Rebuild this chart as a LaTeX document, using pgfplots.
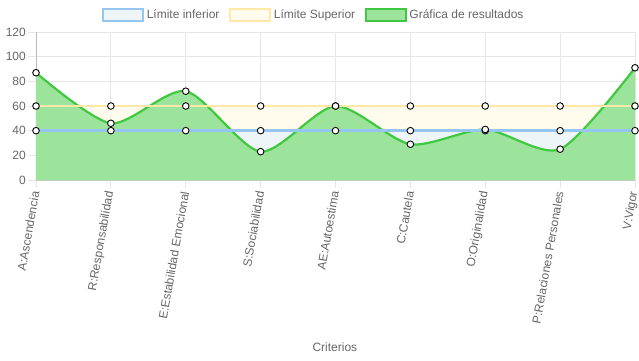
\documentclass[border=0pt]{standalone}
\usepackage{pgfplots}
\pgfplotsset{compat=1.18}
\usepackage{fontspec}
\setmainfont{Liberation Sans}
\definecolor{txt}{HTML}{666666}
\definecolor{gridc}{HTML}{E6E6E6}
\definecolor{axc}{HTML}{BBBBBB}
\definecolor{bline}{RGB}{150,198,240}
\definecolor{bfill}{RGB}{238,245,248}
\definecolor{yline}{RGB}{255,232,168}
\definecolor{yfill}{RGB}{255,252,238}
\definecolor{gline}{RGB}{64,200,64}
\definecolor{gfill}{RGB}{156,227,156}
\begin{document}
\begin{tikzpicture}[x=1pt,y=1pt]
\useasboundingbox (-36pt,-180pt) rectangle (603pt,180pt);
\begin{axis}[
  at={(0pt,0pt)}, anchor=south west,
  scale only axis, width=599pt, height=148pt,
  xmin=0, xmax=8, ymin=0, ymax=120,
  xtick={0,...,8},
  xticklabels={A:Ascendencia,R:Responsabilidad,E:Estabilidad Emocional,S:Sociabilidad,AE:Autoestima,C:Cautela,O:Originalidad,P:Relaciones Personales,V:Vigor},
  ytick={0,20,...,120},
  font=\fontsize{12}{14}\selectfont,
  tick label style={text=txt, font=\fontsize{12}{14}\selectfont},
  /pgf/number format/assume math mode=true,
  x tick label style={rotate=80, anchor=east, inner sep=3.5pt},
  y tick label style={anchor=east, inner sep=2pt},
  grid=major, grid style={color=gridc, line width=0.8pt},
  major tick length=8pt, tick align=outside,
  tick style={color=gridc, line width=0.8pt},
  axis lines*=left, axis line style={color=axc, line width=0.8pt, -},
  xlabel={Criterios},
  xlabel style={at={(axis description cs:0.499,0)}, anchor=center, yshift=-167pt, text=txt},
  legend columns=3,
  reverse legend,
  legend style={at={(axis description cs:0.464,1.115)}, anchor=center, draw=none, fill=none,
    font=\fontsize{12}{14}\selectfont, text=txt,
    /tikz/every even column/.append style={column sep=7pt},
    nodes={inner sep=2.5pt}},
  clip=false,
]
% fills
\addplot[forget plot, draw=none, fill=yfill] coordinates {(0,60)(1,60)(2,60)(3,60)(4,60)(5,60)(6,60)(7,60)(8,60)} \closedcycle;
\addplot[forget plot, draw=none, fill=bfill] coordinates {(0,40)(1,40)(2,40)(3,40)(4,40)(5,40)(6,40)(7,40)(8,40)} \closedcycle;
\addplot[forget plot, draw=none, fill=gfill, smooth, tension=0.45] coordinates {(0,87)(1,46)(2,72)(3,23)(4,60)(5,29)(6,41)(7,25)(8,91)} \closedcycle;
% lines
\addplot[gline, line width=2.2pt, smooth, tension=0.45,
  legend image code/.code={\draw[gline, fill=gfill, line width=2.2pt] (0pt,-6pt) rectangle (40pt,6pt);}]
  coordinates {(0,87)(1,46)(2,72)(3,23)(4,60)(5,29)(6,41)(7,25)(8,91)};
\addlegendentry{Gráfica de resultados}
\addplot[yline, line width=2.4pt,
  legend image code/.code={\draw[yline, fill=yfill, line width=2.4pt] (0pt,-6pt) rectangle (40pt,6pt);}]
  coordinates {(0,60)(1,60)(2,60)(3,60)(4,60)(5,60)(6,60)(7,60)(8,60)};
\addlegendentry{Límite Superior}
\addplot[bline, line width=2.4pt,
  legend image code/.code={\draw[bline, fill=bfill, line width=2.4pt] (0pt,-6pt) rectangle (40pt,6pt);}]
  coordinates {(0,40)(1,40)(2,40)(3,40)(4,40)(5,40)(6,40)(7,40)(8,40)};
\addlegendentry{Límite inferior}
% markers
\addplot[forget plot, only marks, mark=*, mark size=3.3pt, mark options={fill=white, draw=black, line width=0.9pt}]
  coordinates {(0,60)(1,60)(2,60)(3,60)(4,60)(5,60)(6,60)(7,60)(8,60)};
\addplot[forget plot, only marks, mark=*, mark size=3.3pt, mark options={fill=white, draw=black, line width=0.9pt}]
  coordinates {(0,40)(1,40)(2,40)(3,40)(4,40)(5,40)(6,40)(7,40)(8,40)};
\addplot[forget plot, only marks, mark=*, mark size=3.3pt, mark options={fill=white, draw=black, line width=0.9pt}]
  coordinates {(0,87)(1,46)(2,72)(3,23)(4,60)(5,29)(6,41)(7,25)(8,91)};
\end{axis}
\end{tikzpicture}
\end{document}
